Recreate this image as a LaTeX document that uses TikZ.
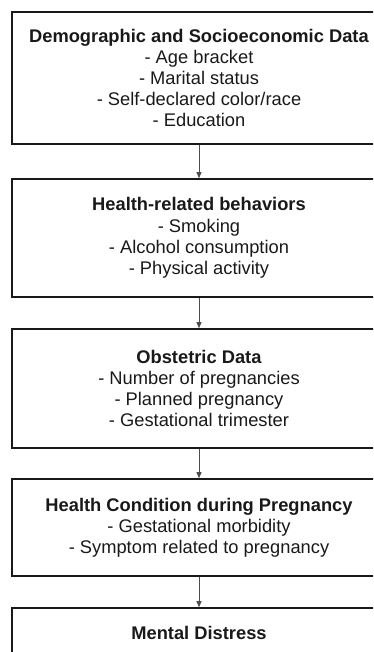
\documentclass[tikz,border=0pt]{standalone}
\usepackage{fontspec}
\setmainfont{Liberation Sans}
\usetikzlibrary{arrows.meta}

\begin{document}
\begin{tikzpicture}[x=1pt,y=-1pt,
        block/.style={draw=black!90,line width=1.6pt,rectangle,minimum width=374pt,
          align=center,inner sep=0pt,text=black!90,font=\fontsize{18.3}{21.2}\selectfont},
        flow/.style={draw=black!70,line width=0.8pt,-{Triangle[length=6pt,width=5pt]}}]
        \useasboundingbox (0,0) rectangle (373,652);
        \clip (0,0) rectangle (373,652);

        \node[block,minimum height=132pt] (demo) at (199,78)
          {\textbf{Demographic and Socioeconomic Data}\\- Age bracket\\- Marital status\\- Self-declared color/race\\- Education};
        \node[block,minimum height=118pt] (behav) at (199,238)
          {\textbf{Health-related behaviors}\\- Smoking\\- Alcohol consumption\\- Physical activity};
        \node[block,minimum height=119pt] (obst) at (199,388.5)
          {\textbf{Obstetric Data}\\- Number of pregnancies\\- Planned pregnancy\\- Gestational trimester};
        \node[block,minimum height=97pt] (cond) at (199,527.5)
          {\textbf{Health Condition during Pregnancy}\\- Gestational morbidity\\- Symptom related to pregnancy};
        \node[block,minimum height=50pt] (mental) at (199,633)
          {\textbf{Mental Distress}};

        \draw[flow] (demo) -- (behav);
        \draw[flow] (behav) -- (obst);
        \draw[flow] (obst) -- (cond);
        \draw[flow] (cond) -- (mental);
      \end{tikzpicture}
\end{document}
